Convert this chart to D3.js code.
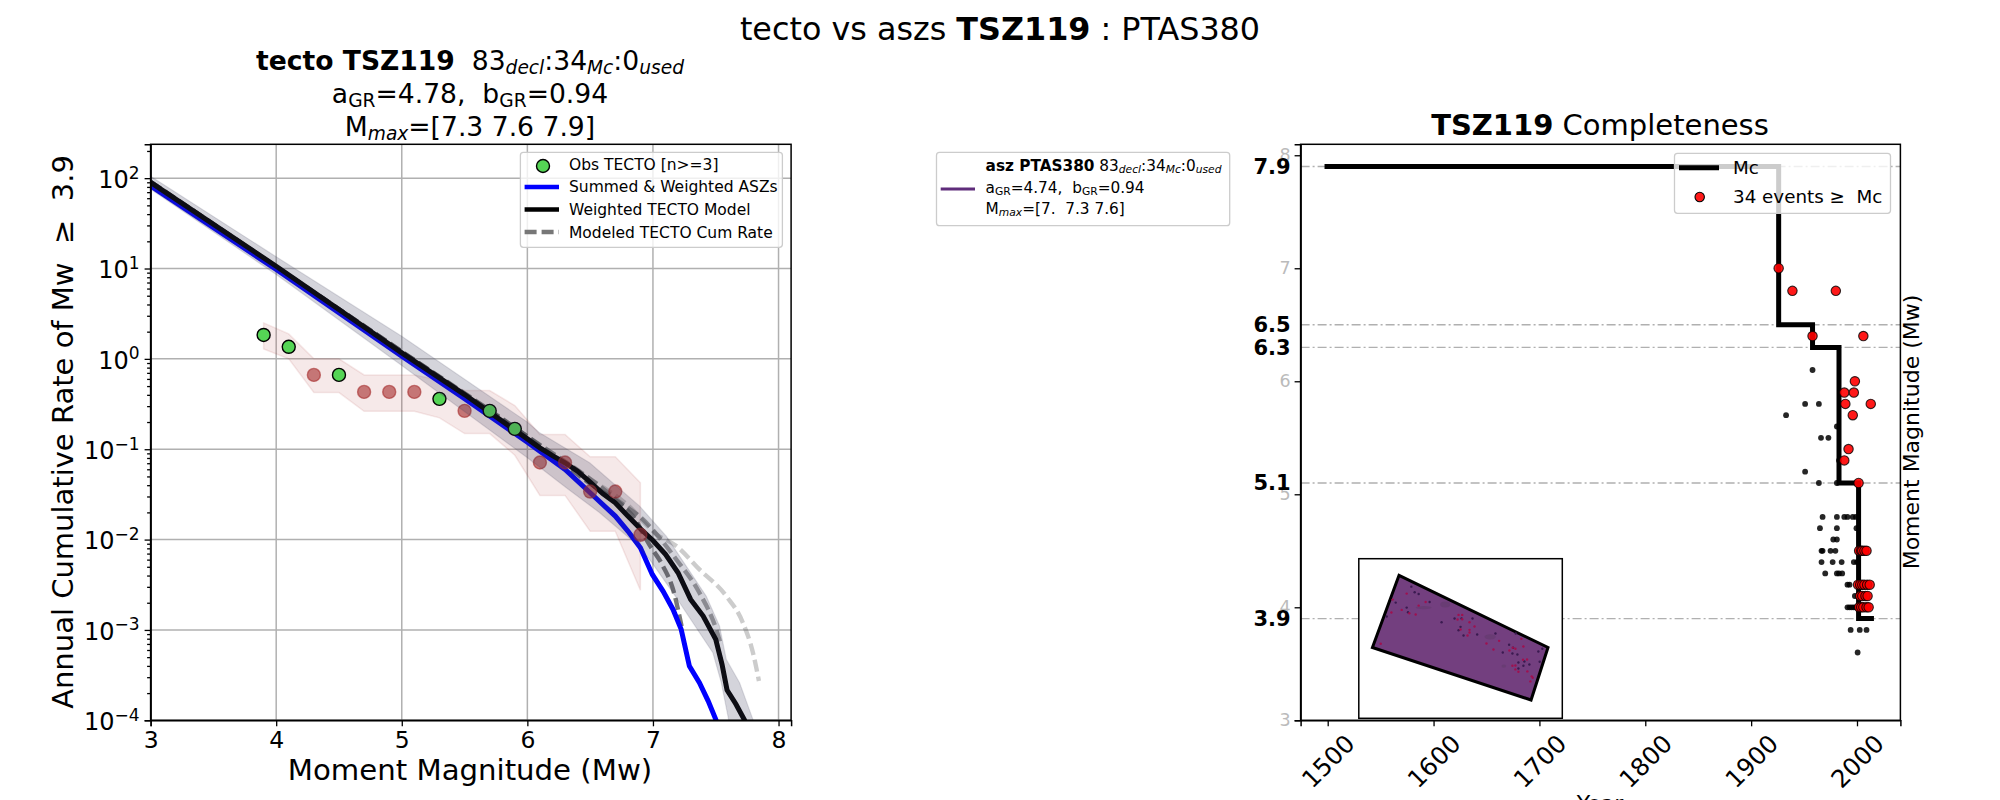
<!DOCTYPE html>
<html>
<head>
<meta charset="utf-8">
<script src="https://cdn.jsdelivr.net/npm/d3@7"></script>
<style>
body { margin: 0; background: #fff; }
svg { display: block; }
text { font-family: "DejaVu Sans", sans-serif; fill: #000; }
</style>
</head>
<body>
<div id="chart"></div>
<script>
// left panel: observed rates
var obsMag = [3.9, 4.1, 4.3, 4.5, 4.7, 4.9, 5.1, 5.3, 5.5, 5.7, 5.9, 6.1, 6.3, 6.5, 6.7, 6.9];
var obsRate = [1.84, 1.36, 0.665, 0.665, 0.431, 0.431, 0.431, 0.361, 0.266, 0.266, 0.168, 0.0713, 0.0713, 0.034, 0.034, 0.0113];
var obsEnough = [1, 1, 0, 1, 0, 0, 0, 1, 0, 1, 1, 0, 0, 0, 0, 0]; // n>=3 is green
var obsUpper = [2.5, 1.89, 1, 1, 0.665, 0.665, 0.665, 0.58, 0.446, 0.446, 0.304, 0.1455, 0.1455, 0.0824, 0.0824, 0.0425];
var obsLower = [1.29, 1, 0.424, 0.424, 0.263, 0.263, 0.263, 0.2225, 0.149, 0.149, 0.0858, 0.0308, 0.0308, 0.0124, 0.0124, 0.00275];

// left panel: model curves (log10 of the rate)
var blueMag = [3, 4, 5, 5.5, 6, 6.3, 6.5, 6.7, 6.8, 6.9, 6.995, 7.08, 7.16, 7.225, 7.29, 7.37, 7.44, 7.5, 7.55];
var blueLog = [1.915, 0.99, 0.03, -0.44, -0.922, -1.224, -1.482, -1.74, -1.906, -2.09, -2.386, -2.57, -2.773, -2.994, -3.4, -3.584, -3.787, -3.99, -4.2];
var blackMag = [3, 4, 5, 5.5, 6, 6.1, 6.2, 6.3, 6.4, 6.5, 6.6, 6.7, 6.8, 6.9, 7, 7.1, 7.2, 7.3, 7.4, 7.5, 7.55, 7.59, 7.66, 7.73, 7.8];
var blackLog = [1.953, 1.025, 0.066, -0.395, -0.885, -0.985, -1.07, -1.15, -1.243, -1.364, -1.49, -1.593, -1.74, -1.88, -2.01, -2.164, -2.367, -2.662, -2.847, -3.105, -3.38, -3.665, -3.82, -4, -4.3];
var bandUpMag = [3, 4, 5, 6, 6.098, 6.496, 6.894, 7.106, 7.265, 7.424, 7.53, 7.584, 7.69, 7.796, 7.81];
var bandUpLog = [2.02, 1.13, 0.25, -0.7, -0.8186, -1.15, -1.63, -1.962, -2.293, -2.625, -2.957, -3.326, -3.584, -3.99, -4.05];
var bandLoMag = [3, 4, 5, 6, 6.31, 6.576, 6.84, 6.973, 7.16, 7.371, 7.477, 7.544, 7.597, 7.61];
var bandLoLog = [1.878, 0.934, -0.074, -1.095, -1.427, -1.703, -2.017, -2.22, -2.589, -3.031, -3.252, -3.584, -3.953, -4.05];
var dashMag = [
	[3, 5, 6, 6.51, 6.76, 6.84, 6.97, 7.08, 7.16, 7.233],
	[3, 5, 6, 6.5, 6.76, 6.92, 7.03, 7.186, 7.37, 7.504, 7.544],
	[3, 5, 6, 6.5, 6.8, 7.03, 7.186, 7.37, 7.584, 7.716, 7.796, 7.844]
];
var dashLog = [
	[1.96, 0.08, -0.86, -1.39, -1.63, -1.74, -2.054, -2.293, -2.552, -2.994],
	[1.96, 0.08, -0.86, -1.33, -1.61, -1.777, -1.943, -2.22, -2.589, -2.994, -3.18],
	[1.96, 0.08, -0.86, -1.33, -1.62, -1.943, -2.07, -2.33, -2.625, -2.92, -3.25, -3.565]
];
var dashOpacity = [0.8, 0.55, 0.3];
var xTicksLeft = [3, 4, 5, 6, 7, 8];
var yDecades = [-4, -3, -2, -1, 0, 1, 2];

// right panel: completeness
var stepYear = [1497, 1926, 1958, 1983, 2001.5, 2016];
var stepMag = [7.9, 6.5, 6.3, 5.1, 3.9];
var mcLevels = [3.9, 5.1, 6.3, 6.5, 7.9];
var magTicks = [3, 4, 5, 6, 7, 8];
var yearTicks = [1500, 1600, 1700, 1800, 1900, 2000];
var usedYear = [1926, 1939, 1980, 1958, 2006, 1998, 1988, 1997, 1989, 2013, 1996, 1992, 1988, 2001.5,
	2002, 2004, 2005, 2007, 2009, 2001, 2003, 2005, 2007, 2009.6, 2012, 2003, 2005, 2008, 2010, 2002, 2004, 2006, 2009, 2011];
var usedMag = [7, 6.8, 6.8, 6.4, 6.4, 6, 5.9, 5.9, 5.8, 5.8, 5.7, 5.4, 5.3, 5.1,
	4.5, 4.5, 4.5, 4.5, 4.5, 4.2, 4.2, 4.2, 4.2, 4.2, 4.2, 4.1, 4.1, 4.1, 4.1, 4, 4, 4, 4, 4];
var otherYear = [1958, 1951, 1964, 1933, 1981, 1966, 1973, 1983, 1951, 1964, 1981,
	1967.5, 1981, 1988, 1991, 1996, 1999, 1965, 1981, 1999.5, 1977.6, 1981, 1966.5, 1967.5, 1975, 1979.6, 2001,
	1966.5, 1977, 1985.5, 1997, 2000, 1970, 1981, 1983, 1986, 1991, 1993, 1998, 1991, 1993, 1995, 1997, 1999, 1994, 2002.6, 2009, 2000.6];
var otherMag = [6.1, 5.8, 5.8, 5.7, 5.6, 5.5, 5.5, 5.3, 5.2, 5.1, 5.1,
	4.8, 4.8, 4.8, 4.8, 4.8, 4.8, 4.7, 4.7, 4.7, 4.6, 4.6, 4.5, 4.5, 4.5, 4.5, 4.5,
	4.4, 4.4, 4.4, 4.4, 4.4, 4.3, 4.3, 4.3, 4.3, 4.2, 4.2, 4.1, 4, 4, 4, 4, 4, 3.8, 3.8, 3.8, 3.6];

// inset map, in map units of the inset box (0-612 across, 0-480 down)
var zoneX = [121, 569, 518, 41];
var zoneY = [50, 267, 425, 267];
var quakeX = [144, 201, 180, 102, 98, 129, 171, 152, 66, 300, 311, 297, 311, 333, 348, 333, 333, 327, 306, 384, 405, 422, 489, 495, 453, 463, 471, 494, 506, 462, 471, 471, 480, 507, 520, 523, 516];
var quakeY = [105, 130, 141, 123, 162, 154, 168, 164, 256, 169, 169, 183, 182, 191, 204, 214, 222, 231, 213, 255, 273, 247, 241, 264, 276, 268, 271, 304, 303, 322, 321, 333, 340, 339, 354, 358, 369];
var darkX = [158, 168, 180, 213, 111, 144, 148, 84, 249, 288, 309, 342, 300, 306, 315, 356, 411, 452, 464, 433, 462, 477, 472, 552, 540, 544, 480, 498, 513, 495, 480];
var darkY = [84, 101, 106, 130, 132, 147, 161, 174, 191, 180, 180, 180, 215, 205, 231, 228, 225, 259, 268, 282, 285, 288, 225, 271, 279, 310, 312, 309, 318, 322, 330];
var blobX = [260, 195, 395, 436];
var blobY = [138, 147, 235, 323];
var blobRx = [15, 24, 17, 7];
var blobRy = [9, 5, 8, 5];

var W = 2000, H = 800;
var svg = d3.select("#chart").append("svg")
	.attr("width", W)
	.attr("height", H)
	.attr("viewBox", "0 0 " + W + " " + H);

// text made of runs, for the mathtext subscripts and bold parts
function runs(sel, parts, size) {
	parts.forEach(function(p) {
		var t = sel.append("tspan").text(p.t);
		t.style("font-size", (p.sub ? size * 0.7 : size) + "px");
		if (p.bold) t.style("font-weight", "bold");
		if (p.it) t.style("font-style", "italic");
		if (p.sub) t.attr("dy", size * 0.15);
		else if (p.back) t.attr("dy", -size * 0.15);
	});
	return sel;
}
function label(x, y, anchor, parts, size, root) {
	var t = (root || svg).append("text").attr("x", x).attr("y", y)
		.attr("text-anchor", anchor).attr("xml:space", "preserve").style("white-space", "pre");
	return runs(t, parts, size);
}

// titles
label(1000, 40, "middle", [{t: "tecto vs aszs "}, {t: "TSZ119", bold: 1}, {t: " : PTAS380"}], 31.8);
label(470, 70, "middle", [{t: "tecto TSZ119", bold: 1}, {t: "  83"}, {t: "decl", sub: 1, it: 1}, {t: ":34", back: 1}, {t: "Mc", sub: 1, it: 1}, {t: ":0", back: 1}, {t: "used", sub: 1, it: 1}], 26.6);
label(470, 103, "middle", [{t: "a"}, {t: "GR", sub: 1}, {t: "=4.78,  b", back: 1}, {t: "GR", sub: 1}, {t: "=0.94", back: 1}], 26.6);
label(470, 136, "middle", [{t: "M"}, {t: "max", sub: 1, it: 1}, {t: "=[7.3 7.6 7.9]", back: 1}], 26.6);
label(1600, 135, "middle", [{t: "TSZ119", bold: 1}, {t: " Completeness"}], 29);

// ---------- left panel ----------
var xL = d3.scaleLinear().domain([3, 8.1]).range([150.6, 791.1]);
var yL = d3.scaleLog().domain([1e-4, 237]).range([720.3, 144.3]);

var clipL = svg.append("clipPath").attr("id", "clipL");
clipL.append("rect").attr("x", xL.range()[0]).attr("y", yL.range()[1])
	.attr("width", xL.range()[1] - xL.range()[0]).attr("height", yL.range()[0] - yL.range()[1]);

var gL = svg.append("g").attr("clip-path", "url(#clipL)");

gL.selectAll(".vgrid").data(xTicksLeft).enter().append("line")
	.attr("x1", d => xL(d)).attr("x2", d => xL(d))
	.attr("y1", yL.range()[0]).attr("y2", yL.range()[1])
	.attr("stroke", "#b0b0b0").attr("stroke-width", 1.5);
gL.selectAll(".hgrid").data(yDecades).enter().append("line")
	.attr("x1", xL.range()[0]).attr("x2", xL.range()[1])
	.attr("y1", d => yL(Math.pow(10, d))).attr("y2", d => yL(Math.pow(10, d)))
	.attr("stroke", "#b0b0b0").attr("stroke-width", 1.5);

// brown band of the observations
var obsArea = d3.area()
	.x((d, i) => xL(obsMag[i]))
	.y0((d, i) => yL(obsLower[i]))
	.y1((d, i) => yL(obsUpper[i]));
gL.append("path").attr("d", obsArea(obsMag))
	.attr("fill", "#a52a2a").attr("fill-opacity", 0.1)
	.attr("stroke", "#a52a2a").attr("stroke-opacity", 0.1).attr("stroke-width", 1.5);

function logLine(mags, logs, curve) {
	var gen = d3.line()
		.x((d, i) => xL(mags[i]))
		.y((d, i) => yL(Math.pow(10, logs[i])));
	if (curve) gen.curve(curve);
	return gen(mags);
}

dashMag.forEach(function(m, k) {
	gL.append("path").attr("d", logLine(m, dashLog[k], d3.curveMonotoneX))
		.attr("fill", "none").attr("stroke", "#555").attr("stroke-opacity", dashOpacity[k])
		.attr("stroke-width", 4.4).attr("stroke-dasharray", "12,5");
});
gL.append("path").attr("d", logLine(blueMag, blueLog))
	.attr("fill", "none").attr("stroke", "#0000ff").attr("stroke-width", 5);
gL.append("path").attr("d", logLine(blackMag, blackLog))
	.attr("fill", "none").attr("stroke", "#000").attr("stroke-width", 5);

// observed points, brown when n<3
gL.selectAll(".obs").data(obsMag).enter().append("circle")
	.attr("cx", d => xL(d))
	.attr("cy", (d, i) => yL(obsRate[i]))
	.attr("r", 6.5)
	.attr("fill", (d, i) => obsEnough[i] ? "#55d455" : "#a52a2a")
	.attr("fill-opacity", (d, i) => obsEnough[i] ? 1 : 0.6)
	.attr("stroke", (d, i) => obsEnough[i] ? "#000" : "#a52a2a")
	.attr("stroke-opacity", (d, i) => obsEnough[i] ? 1 : 0.6)
	.attr("stroke-width", 1.4);

// grey band goes over everything
var bandPts = bandUpMag.map((m, i) => [xL(m), yL(Math.pow(10, bandUpLog[i]))])
	.concat(bandLoMag.map((m, i) => [xL(m), yL(Math.pow(10, bandLoLog[i]))]).reverse());
gL.append("path").attr("d", d3.line()(bandPts) + "Z")
	.attr("fill", "#3c3c5a").attr("fill-opacity", 0.22)
	.attr("stroke", "#3c3c5a").attr("stroke-opacity", 0.15).attr("stroke-width", 1.2);

function styleAxis(g, size, colour) {
	g.selectAll("path.domain").attr("stroke", "#000").attr("stroke-width", 1.5);
	g.selectAll(".tick line").attr("stroke", "#000").attr("stroke-width", 1.3);
	g.selectAll("text").style("font-size", size + "px").style("font-family", '"DejaVu Sans", sans-serif').style("fill", colour || "#000");
}

var axXL = svg.append("g").attr("transform", "translate(0," + yL.range()[0] + ")")
	.call(d3.axisBottom(xL).tickValues(xTicksLeft).tickSize(6).tickPadding(5.5).tickFormat(d3.format("d")));
styleAxis(axXL, 23.5);

var minorVals = [];
yDecades.concat([-5]).forEach(function(e) {
	[2, 3, 4, 5, 6, 7, 8, 9].forEach(function(k) {
		var v = k * Math.pow(10, e);
		if (v > yL.domain()[0] && v < yL.domain()[1]) minorVals.push(v);
	});
});
var axYLm = svg.append("g").attr("transform", "translate(" + xL.range()[0] + ",0)")
	.call(d3.axisLeft(yL).tickValues(minorVals).tickSize(3.5).tickFormat(""));
styleAxis(axYLm, 10);
axYLm.select("path.domain").attr("stroke", "none");

var axYL = svg.append("g").attr("transform", "translate(" + xL.range()[0] + ",0)")
	.call(d3.axisLeft(yL).tickValues(yDecades.map(d => Math.pow(10, d))).tickSize(6).tickPadding(5).tickFormat(""));
styleAxis(axYL, 23);
axYL.selectAll(".tick").each(function(d) {
	var e = Math.round(Math.log10(d));
	var t = d3.select(this).select("text").text(null).attr("dy", "0.4em");
	t.append("tspan").text("10").style("font-size", "24px");
	t.append("tspan").text(e < 0 ? "\u2212" + (-e) : "" + e).style("font-size", "17px").attr("dy", "-0.55em");
});
// right and top spines
svg.append("rect").attr("x", xL.range()[0]).attr("y", yL.range()[1])
	.attr("width", xL.range()[1] - xL.range()[0]).attr("height", yL.range()[0] - yL.range()[1])
	.attr("fill", "none").attr("stroke", "#000").attr("stroke-width", 1.5);

label(470, 780, "middle", [{t: "Moment Magnitude (Mw)"}], 29.2);
svg.append("text").attr("transform", "translate(73,432) rotate(-90)")
	.attr("text-anchor", "middle").style("font-size", "29px").style("white-space", "pre")
	.text("Annual Cumulative Rate of Mw  \u2265  3.9");

function legendBox(x0, y0, x1, y1) {
	svg.append("rect").attr("x", x0).attr("y", y0).attr("width", x1 - x0).attr("height", y1 - y0)
		.attr("rx", 3).attr("fill", "#fff").attr("fill-opacity", 0.8)
		.attr("stroke", "#ccc").attr("stroke-width", 1.3);
}

// left legend
var legendNames = ["Obs TECTO [n>=3]", "Summed & Weighted ASZs", "Weighted TECTO Model", "Modeled TECTO Cum Rate"];
var legendYs = [164, 186, 209, 232];
legendBox(520.4, 152.3, 782.4, 247.3);
legendNames.forEach(function(n, i) {
	label(569, legendYs[i] + 5.5, "start", [{t: n}], 15.5);
});
svg.append("circle").attr("cx", 543).attr("cy", 166).attr("r", 6.5)
	.attr("fill", "#55d455").attr("stroke", "#000").attr("stroke-width", 1.4);
svg.append("line").attr("x1", 524.6).attr("x2", 559).attr("y1", 187).attr("y2", 187).attr("stroke", "#0000ff").attr("stroke-width", 4.6);
svg.append("line").attr("x1", 524.6).attr("x2", 559).attr("y1", 209.5).attr("y2", 209.5).attr("stroke", "#000").attr("stroke-width", 4.6);
svg.append("line").attr("x1", 524.6).attr("x2", 559).attr("y1", 232).attr("y2", 232)
	.attr("stroke", "#777").attr("stroke-width", 4.6).attr("stroke-dasharray", "12,5");

// middle legend (asz)
legendBox(936.5, 152.3, 1229.7, 225.7);
svg.append("line").attr("x1", 940.7).attr("x2", 975).attr("y1", 189).attr("y2", 189).attr("stroke", "#5f2c7b").attr("stroke-width", 3);
label(985.6, 170.5, "start", [{t: "asz PTAS380", bold: 1}, {t: " 83"}, {t: "decl", sub: 1, it: 1}, {t: ":34", back: 1}, {t: "Mc", sub: 1, it: 1}, {t: ":0", back: 1}, {t: "used", sub: 1, it: 1}], 15.3);
label(985.6, 192.5, "start", [{t: "a"}, {t: "GR", sub: 1}, {t: "=4.74,  b", back: 1}, {t: "GR", sub: 1}, {t: "=0.94", back: 1}], 15.3);
label(985.6, 213.5, "start", [{t: "M"}, {t: "max", sub: 1, it: 1}, {t: "=[7.  7.3 7.6]", back: 1}], 15.3);

// ---------- right panel ----------
var xR = d3.scaleLinear().domain([1474.4, 2041]).range([1300.6, 1900.4]);
var yR = d3.scaleLinear().domain([3, 8.097]).range([720.3, 144.3]);

svg.selectAll(".mcline").data(mcLevels).enter().append("line")
	.attr("x1", xR.range()[0]).attr("x2", xR.range()[1])
	.attr("y1", d => yR(d)).attr("y2", d => yR(d))
	.attr("stroke", "#b0b0b0").attr("stroke-width", 1.4).attr("stroke-dasharray", "9,3,2,3");

// Mc step line
var stepPts = [];
stepMag.forEach(function(m, i) {
	stepPts.push([xR(stepYear[i]), yR(m)]);
	stepPts.push([xR(stepYear[i + 1]), yR(m)]);
});
svg.append("path").attr("d", d3.line()(stepPts))
	.attr("fill", "none").attr("stroke", "#000").attr("stroke-width", 5);

svg.selectAll(".other").data(otherYear).enter().append("circle")
	.attr("cx", d => xR(d))
	.attr("cy", (d, i) => yR(otherMag[i]))
	.attr("r", 2.9).attr("fill", "#000").attr("fill-opacity", 0.85);
svg.selectAll(".used").data(usedYear).enter().append("circle")
	.attr("cx", d => xR(d))
	.attr("cy", (d, i) => yR(usedMag[i]))
	.attr("r", 4.7).attr("fill", "#ff0000").attr("fill-opacity", 0.9)
	.attr("stroke", "#000").attr("stroke-opacity", 0.8).attr("stroke-width", 1.1);

var axXR = svg.append("g").attr("transform", "translate(0," + yR.range()[0] + ")")
	.call(d3.axisBottom(xR).tickValues(yearTicks).tickSize(6).tickFormat(d3.format("d")));
styleAxis(axXR, 24.5);
// rotated about the centre of the label, like the ha=center of the original
axXR.selectAll("text")
	.attr("text-anchor", "middle")
	.attr("y", 0)
	.attr("dy", "0.35em")
	.attr("transform", "translate(0,41) rotate(-45)");

var axYR = svg.append("g").attr("transform", "translate(" + xR.range()[0] + ",0)")
	.call(d3.axisLeft(yR).tickValues(magTicks).tickSize(6).tickPadding(4).tickFormat(d3.format("d")));
styleAxis(axYR, 17.5, "#bbb");

var axYR2 = svg.append("g").attr("transform", "translate(" + xR.range()[0] + ",0)")
	.call(d3.axisLeft(yR).tickValues(mcLevels).tickSize(0).tickPadding(10).tickFormat(d3.format(".1f")));
axYR2.select("path.domain").remove();
axYR2.selectAll("text").style("font-size", "21px").style("font-weight", "bold")
	.style("font-family", '"DejaVu Sans", sans-serif').style("fill", "#000");

svg.append("rect").attr("x", xR.range()[0]).attr("y", yR.range()[1])
	.attr("width", xR.range()[1] - xR.range()[0]).attr("height", yR.range()[0] - yR.range()[1])
	.attr("fill", "none").attr("stroke", "#000").attr("stroke-width", 1.5);

label(1600, 811, "middle", [{t: "Year"}], 22);
svg.append("text").attr("transform", "translate(1919,432) rotate(-90)")
	.attr("text-anchor", "middle").style("font-size", "22px")
	.text("Moment Magnitude (Mw)");

// right legend
legendBox(1674.5, 153.3, 1890.5, 213.3);
svg.append("line").attr("x1", 1679).attr("x2", 1719).attr("y1", 167.7).attr("y2", 167.7).attr("stroke", "#000").attr("stroke-width", 5);
svg.append("circle").attr("cx", 1699.7).attr("cy", 197).attr("r", 4.7).attr("fill", "#ff0000").attr("fill-opacity", 0.9).attr("stroke", "#000").attr("stroke-width", 1.1);
label(1733, 174, "start", [{t: "Mc"}], 18.3);
label(1733, 203, "start", [{t: "34 events \u2265  Mc"}], 18.3);

// inset map
var mapX = d3.scaleLinear().domain([0, 612]).range([1358.8, 1562.3]);
var mapY = d3.scaleLinear().domain([0, 480]).range([558.7, 718.3]);
var inset = svg.append("g");
inset.append("rect").attr("x", mapX(0)).attr("y", mapY(0))
	.attr("width", mapX(612) - mapX(0)).attr("height", mapY(480) - mapY(0))
	.attr("fill", "#fff").attr("stroke", "#000").attr("stroke-width", 1.5);
inset.append("path")
	.attr("d", d3.line()(zoneX.map((d, i) => [mapX(d), mapY(zoneY[i])])) + "Z")
	.attr("fill", "#733f7f").attr("stroke", "#000").attr("stroke-width", 3).attr("stroke-linejoin", "miter");
inset.selectAll(".blob").data(blobX).enter().append("ellipse")
	.attr("cx", d => mapX(d)).attr("cy", (d, i) => mapY(blobY[i]))
	.attr("rx", (d, i) => mapX(blobRx[i]) - mapX(0)).attr("ry", (d, i) => mapY(blobRy[i]) - mapY(0))
	.attr("fill", "#5f3a6a").attr("fill-opacity", 0.5);
inset.selectAll(".dark").data(darkX).enter().append("circle")
	.attr("cx", d => mapX(d)).attr("cy", (d, i) => mapY(darkY[i])).attr("r", 1.2)
	.attr("fill", "#3a1a50");
inset.selectAll(".quake").data(quakeX).enter().append("circle")
	.attr("cx", d => mapX(d)).attr("cy", (d, i) => mapY(quakeY[i])).attr("r", 1.2)
	.attr("fill", "#a0104f");
</script>
</body>
</html>
